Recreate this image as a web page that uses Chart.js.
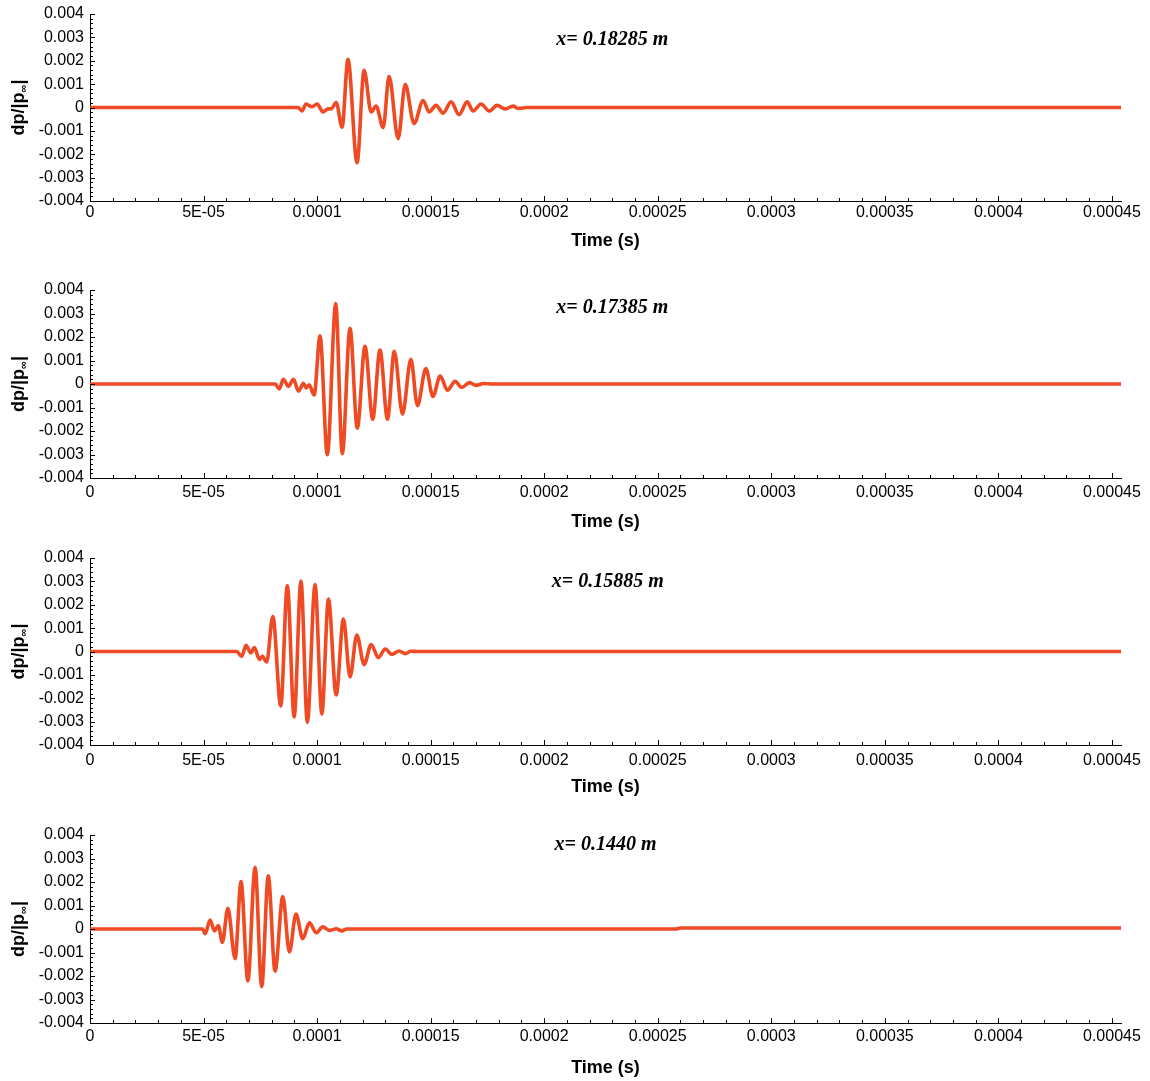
<!DOCTYPE html>
<html>
<head>
<meta charset="utf-8">
<script src="https://cdn.jsdelivr.net/npm/chart.js@4.4.1/dist/chart.umd.min.js"></script>
<style>
  html, body { margin: 0; padding: 0; background: #fff; overflow: hidden; }
  #wrap { position: relative; width: 1150px; height: 1081px; }
  #wrap canvas { position: absolute; left: 0; }
</style>
</head>
<body>
<div id="wrap"></div>
<script>
// Pressure fluctuation traces dp/|p_inf| versus time at four probe stations.
const stationLabels = ['x= 0.18285 m', 'x= 0.17385 m', 'x= 0.15885 m', 'x= 0.1440 m'];

const t1 = [0, 9.16e-5, 9.34e-5, 9.51e-5, 9.78e-5, 1.0e-4, 1.026e-4, 1.048e-4, 1.062e-4, 1.084e-4,
            1.11e-4, 1.136e-4, 1.176e-4, 1.207e-4, 1.238e-4, 1.26e-4, 1.291e-4, 1.317e-4, 1.357e-4, 1.388e-4,
            1.427e-4, 1.467e-4, 1.493e-4, 1.524e-4, 1.555e-4, 1.59e-4, 1.625e-4, 1.661e-4, 1.687e-4, 1.722e-4,
            1.758e-4, 1.793e-4, 1.828e-4, 1.863e-4, 1.885e-4, 1.925e-4, 4.54e-4];
const p1 = [0, 0, -0.00015, 0.00015, 0.00003, 0.00015, -0.00019, -0.00006, -0.00006, 0.00021,
            -0.00084, 0.00206, -0.00236, 0.00159, -0.00019, 0.00006, -0.00086, 0.00133, -0.00133, 0.00099,
            -0.00069, 0.0003, -0.00019, 0.00009, -0.00024, 0.00024, -0.0003, 0.00024, -0.00015, 0.00015,
            -0.00015, 0.00009, -0.00006, 0.00006, -0.00004, 0, 0];

const t2 = [0, 8.15e-5, 8.34e-5, 8.51e-5, 8.74e-5, 8.96e-5, 9.18e-5, 9.4e-5, 9.52e-5, 9.65e-5,
            9.87e-5, 1.013e-4, 1.045e-4, 1.082e-4, 1.111e-4, 1.145e-4, 1.177e-4, 1.211e-4, 1.245e-4, 1.277e-4,
            1.31e-4, 1.34e-4, 1.376e-4, 1.413e-4, 1.442e-4, 1.479e-4, 1.51e-4, 1.542e-4, 1.574e-4, 1.608e-4,
            1.637e-4, 1.671e-4, 1.7e-4, 1.733e-4, 1.775e-4, 4.54e-4];
const p2 = [0, 0, -0.00021, 0.0002, -0.0001, 0.0002, -0.0003, 0.00003, -0.00017, -0.00003,
            -0.00047, 0.00205, -0.00301, 0.00342, -0.00297, 0.00237, -0.00188, 0.0016, -0.0015, 0.00145,
            -0.0015, 0.00139, -0.00128, 0.00105, -0.00092, 0.00066, -0.00053, 0.00034, -0.00026, 0.00011,
            -0.00015, 0.00006, -0.00006, 0.00002, 0, 0];

const t3 = [0, 6.46e-5, 6.68e-5, 6.87e-5, 7.08e-5, 7.24e-5, 7.46e-5, 7.59e-5, 7.78e-5, 8.05e-5,
            8.4e-5, 8.69e-5, 8.99e-5, 9.29e-5, 9.57e-5, 9.91e-5, 1.021e-4, 1.05e-4, 1.084e-4, 1.116e-4,
            1.145e-4, 1.175e-4, 1.207e-4, 1.238e-4, 1.27e-4, 1.3e-4, 1.329e-4, 1.361e-4, 1.388e-4, 1.413e-4,
            1.439e-4, 4.54e-4];
const p3 = [0, 0, -0.00021, 0.00026, -0.00006, 0.00017, -0.00034, -0.00021, -0.00045, 0.0015,
            -0.00233, 0.00282, -0.0028, 0.00301, -0.00303, 0.00286, -0.00267, 0.00224, -0.00186, 0.00139,
            -0.00109, 0.0007, -0.00056, 0.0003, -0.00026, 0.00011, -0.00013, 0.00002, -0.00009, 0.00001,
            0, 0];

const t4 = [0, 4.96e-5, 5.07e-5, 5.29e-5, 5.48e-5, 5.65e-5, 5.83e-5, 6.07e-5, 6.39e-5, 6.65e-5,
            6.95e-5, 7.27e-5, 7.56e-5, 7.85e-5, 8.15e-5, 8.49e-5, 8.78e-5, 9.07e-5, 9.37e-5, 9.66e-5,
            9.96e-5, 1.025e-4, 1.054e-4, 1.084e-4, 1.109e-4, 1.131e-4, 1.175e-4, 2.58e-4, 2.6e-4, 4.54e-4];
const p4 = [0, 0, -0.0002, 0.00038, -0.00008, 0.00015, -0.00057, 0.00088, -0.00126, 0.00202,
            -0.00221, 0.00263, -0.00245, 0.00226, -0.00179, 0.00138, -0.00098, 0.00064, -0.00041, 0.00026,
            -0.00016, 0.00009, -0.00006, 0.00001, -0.00008, 0, 0, 0, 0.00004, 0.00004];

const xTickValues = [0, 0.00005, 0.0001, 0.00015, 0.0002, 0.00025, 0.0003, 0.00035, 0.0004, 0.00045];
const xTickLabels = ['0', '5E-05', '0.0001', '0.00015', '0.0002', '0.00025', '0.0003', '0.00035', '0.0004', '0.00045'];
const yTickValues = [-0.004, -0.003, -0.002, -0.001, 0, 0.001, 0.002, 0.003, 0.004];
const yTickLabels = ['-0.004', '-0.003', '-0.002', '-0.001', '0', '0.001', '0.002', '0.003', '0.004'];

const X_MIN = 0, X_MAX = 0.000454, Y_MIN = -0.004, Y_MAX = 0.004;
const LINE_COLOR = '#ef4a24';
const SANS = '"Liberation Sans", Arial, Helvetica, sans-serif';
const SERIF = '"Liberation Serif", "Times New Roman", serif';

// Layout of the four stacked panels (page pixels).
const panels = [
  { t: t1, p: p1, label: stationLabels[0], top: 14,  plotH: 187, labelOff: 12, titleOff: 40, labelAt: [0.00023,  0.0029]  },
  { t: t2, p: p2, label: stationLabels[1], top: 290, plotH: 188, labelOff: 15, titleOff: 44, labelAt: [0.00023,  0.00323] },
  { t: t3, p: p3, label: stationLabels[2], top: 558, plotH: 187, labelOff: 16, titleOff: 42, labelAt: [0.000228, 0.003]   },
  { t: t4, p: p4, label: stationLabels[3], top: 835, plotH: 188, labelOff: 14, titleOff: 45, labelAt: [0.000227, 0.0036]  }
];

const PAD_TOP = 10, X_AXIS_H = 62, Y_AXIS_W = 90, PAD_RIGHT = 29;

// Inward ticks, station label and the y-axis title with its subscript.
const decor = {
  id: 'decor',
  afterDraw(chart, args, opts) {
    const { ctx, chartArea: a, scales: { x, y } } = chart;
    ctx.save();
    ctx.strokeStyle = '#000';
    ctx.lineWidth = 1;
    ctx.beginPath();
    for (let k = 0; k <= 45; k++) {
      const px = Math.round(x.getPixelForValue(k * 1e-5)) + 0.5;
      const len = k % 5 === 0 ? 5 : 3;
      ctx.moveTo(px, a.bottom);
      ctx.lineTo(px, a.bottom - len);
    }
    for (let k = -20; k <= 20; k++) {
      const py = Math.round(y.getPixelForValue(k * 2e-4)) + 0.5;
      const len = k % 5 === 0 ? 5 : 3;
      ctx.moveTo(a.left, py);
      ctx.lineTo(a.left + len, py);
    }
    ctx.stroke();

    // station label
    ctx.fillStyle = '#000';
    ctx.font = 'italic bold 20px ' + SERIF;
    ctx.textAlign = 'center';
    ctx.textBaseline = 'middle';
    ctx.fillText(opts.label, x.getPixelForValue(opts.labelAt[0]), y.getPixelForValue(opts.labelAt[1]));

    // y-axis title: dp/|p∞|
    const mainFont = 'bold 18px ' + SANS;
    const subFont = 'bold 11px ' + SANS;
    ctx.textAlign = 'left';
    ctx.textBaseline = 'alphabetic';
    ctx.font = mainFont;
    const w1 = ctx.measureText('dp/|p').width;
    const w3 = ctx.measureText('|').width;
    ctx.font = subFont;
    const w2 = ctx.measureText('\u221E').width;
    const total = w1 + w2 + w3;
    ctx.translate(19, (a.top + a.bottom) / 2);
    ctx.rotate(-Math.PI / 2);
    let cx = -total / 2;
    const base = 5;
    ctx.font = mainFont;
    ctx.fillText('dp/|p', cx, base);
    cx += w1;
    ctx.font = subFont;
    ctx.fillText('\u221E', cx, base + 3);
    cx += w2;
    ctx.font = mainFont;
    ctx.fillText('|', cx, base);
    ctx.restore();
  }
};

const wrap = document.getElementById('wrap');

panels.forEach((pn) => {
  const canvas = document.createElement('canvas');
  const h = PAD_TOP + pn.plotH + X_AXIS_H;
  canvas.width = 1150;
  canvas.height = h;
  canvas.style.width = '1150px';
  canvas.style.height = h + 'px';
  canvas.style.top = (pn.top - PAD_TOP) + 'px';
  wrap.appendChild(canvas);

  const points = pn.t.map((tv, i) => ({ x: tv, y: pn.p[i] }));

  new Chart(canvas.getContext('2d'), {
    type: 'line',
    data: {
      datasets: [{
        data: points,
        borderColor: LINE_COLOR,
        borderWidth: 3.6,
        pointRadius: 0,
        fill: false,
        cubicInterpolationMode: 'monotone'
      }]
    },
    options: {
      responsive: false,
      animation: false,
      devicePixelRatio: 1,
      layout: { padding: { top: PAD_TOP, right: PAD_RIGHT, left: 0, bottom: 0 } },
      plugins: {
        legend: { display: false },
        tooltip: { enabled: false },
        decor: { label: pn.label, labelAt: pn.labelAt }
      },
      scales: {
        x: {
          type: 'linear',
          min: X_MIN,
          max: X_MAX,
          grid: { display: false, drawTicks: false },
          border: { display: true, color: '#000', width: 1 },
          afterBuildTicks: (s) => { s.ticks = xTickValues.map((v) => ({ value: v })); },
          afterFit: (s) => { s.height = X_AXIS_H; s.paddingLeft = 0; s.paddingRight = 0; },
          ticks: {
            autoSkip: false,
            maxRotation: 0,
            padding: pn.labelOff - 9.6,
            color: '#000',
            font: { family: SANS, size: 16 },
            callback: (v, i) => xTickLabels[i]
          },
          title: {
            display: true,
            text: 'Time (s)',
            color: '#000',
            font: { family: SANS, size: 18, weight: 'bold' },
            padding: { top: 0, bottom: X_AXIS_H - pn.titleOff - 10.8 }
          }
        },
        y: {
          type: 'linear',
          min: Y_MIN,
          max: Y_MAX,
          grid: { display: false, drawTicks: false },
          border: { display: true, color: '#000', width: 1 },
          afterBuildTicks: (s) => { s.ticks = yTickValues.map((v) => ({ value: v })); },
          afterFit: (s) => { s.width = Y_AXIS_W; s.paddingTop = 0; s.paddingBottom = 0; },
          ticks: {
            autoSkip: false,
            padding: 6,
            color: '#000',
            font: { family: SANS, size: 16 },
            callback: (v, i) => yTickLabels[i]
          }
        }
      }
    },
    plugins: [decor]
  });
});
</script>
</body>
</html>
